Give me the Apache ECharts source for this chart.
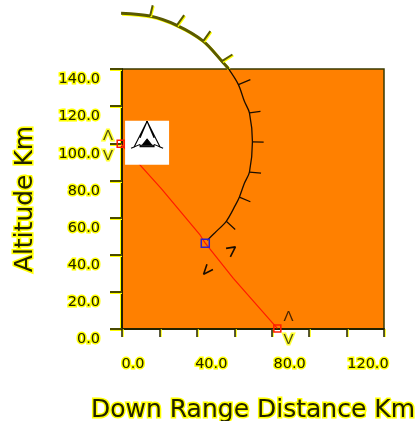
<!DOCTYPE html>
<html><head><meta charset="utf-8">
<style>html,body{margin:0;padding:0;background:#fff}#c{width:416px;height:421px}</style>
<script src="https://cdn.jsdelivr.net/npm/echarts@6/dist/echarts.min.js"></script>
</head><body><div id="c"></div>
<script>
const xTitle = 'Down Range Distance Km';
const yTitle = 'Altitude Km';
const xLabels = [0, 40, 80, 120];
const yLabels = [0, 20, 40, 60, 80, 100, 120, 140];
const arcOutside = [[-0.5,170],[15,168.5],[29.3,163.5],[43.4,155],[53.4,144.2],[56.8,140.3]];
const arcInside = [[56.8,140.3],[62.2,131.6],[65.4,122.6],[68.1,116.4],[69.7,100.8],[68.1,84.5],[65.4,78.5],[62.7,71],[60.6,66.7],[55.7,58],[49.8,52],[45.6,47.8]];
const barbsOutside = [[15,168.5],[16.4,174.3],null,[29.3,163.5],[33.2,169],null,[43.4,155],[47.2,160.4],null,[53.4,144.2],[59,147.8]];
const barbsInside = [[62.2,131.6],[68.6,134.3],null,[68.1,116.4],[74,117.2],null,[69.7,100.8],[75.7,100.6],null,[68.1,84.5],[74.3,83.9],null,[62.7,71],[68.6,68.5],null,[55.7,58],[60.5,53.6]];
const groundTrack = [[-0.7,99.7],[9.1,88.9],[21,75.6],[41.8,50.5],[44.5,46.2],[59.5,27.3],[83,0.3]];
const arrowA = [[55.6,43.4],[60.6,44.2],[57.9,38.8]];
const arrowB = [[45.4,34.9],[43.6,29.5],[48.6,32]];
const redMarks = [[-0.7,99.7],[83,0.3]];
const blueMark = [[44.5,46.2]];
const iconPoint = [[13.4,100.3]];
const haloGlyphs = [[-7.5,104,'Λ'],[-7.5,93,'V'],[89,-6,'V']];
const plainGlyphs = [[89,6.5,'Λ']];

const halo = {color:'#222200',textBorderColor:'#ffff00',textBorderWidth:3};
const chart = echarts.init(document.getElementById('c'));
function line(data,color,width,shadow,z,smooth){
  return {type:'line',data,symbol:'none',clip:false,z,connectNulls:false,animation:false,smooth:smooth||false,
    lineStyle:Object.assign({color,width},shadow?{shadowColor:'#ffff00',shadowBlur:0,shadowOffsetX:1,shadowOffsetY:1}:{})};
}
const iconPath='path://M50 2 L12 70 M50 2 L88 70 M50 2 L30 45 M50 2 L70 45 M38 62 L50 48 L62 62 Z M4 72 L30 62 M96 72 L70 62 M30 64 L70 64 L70 68 L30 68 Z';
chart.setOption({
  animation:false,
  grid:{left:122,right:32,top:69,bottom:92,outerBoundsMode:'none',show:true,backgroundColor:'#ff8000',borderColor:'#3a3a00',borderWidth:1.5},
  xAxis:[
    {type:'value',min:0,max:140,interval:20,position:'bottom',splitLine:{show:false},
     axisLine:{onZero:false,lineStyle:{color:'#222200',width:2}},
     axisTick:{length:8,lineStyle:{color:'#222200',width:1.5,shadowColor:'#ffff00',shadowOffsetX:1,shadowBlur:0}},
     axisLabel:{show:false},
     name:xTitle,nameLocation:'middle',nameGap:69,
     nameTextStyle:Object.assign({fontFamily:'DejaVu Sans',fontSize:25},halo)},
    {type:'value',min:-5.6,max:128.2,position:'bottom',splitLine:{show:false},
     axisLine:{show:false},axisTick:{show:false},
     axisLabel:Object.assign({customValues:xLabels,margin:28,fontFamily:'DejaVu Sans',fontSize:14.5,
       formatter:v=>v.toFixed(1)},halo)}
  ],
  yAxis:{type:'value',min:0,max:140,interval:20,splitLine:{show:false},
    axisLine:{onZero:false,lineStyle:{color:'#222200',width:2,shadowColor:'#ffff00',shadowOffsetX:-1,shadowBlur:0}},
    axisTick:{length:12,lineStyle:{color:'#4a4a00',width:2,shadowColor:'#ffff00',shadowOffsetY:1,shadowBlur:0}},
    axisLabel:Object.assign({customValues:yLabels,margin:22,verticalAlign:'top',padding:[3,0,0,0],fontFamily:'DejaVu Sans',fontSize:14.5,
      formatter:v=>v.toFixed(1)},halo),
    name:yTitle,nameLocation:'middle',nameGap:84,nameRotate:90,
    nameTextStyle:Object.assign({fontFamily:'DejaVu Sans',fontSize:25},halo)},
  series:[
    line(groundTrack,'#ff1a00',1.2,false,3),
    {type:'scatter',data:iconPoint,symbol:'rect',symbolSize:44,clip:false,z:4,itemStyle:{color:'#fff',opacity:1},silent:true},
    {type:'scatter',data:iconPoint,symbol:iconPath,symbolSize:[32,27],symbolOffset:[0,-8],clip:false,z:5,
      itemStyle:{color:'#000',borderColor:'#000',borderWidth:1,opacity:1},silent:true},
    line(arcOutside,'#5a5a00',3,true,6,0.3),
    line(barbsOutside,'#5a5a00',2,true,6),
    line(arcInside,'#1a0d00',1.3,false,6,0.3),
    line(barbsInside,'#1a0d00',1.2,false,6),
    line(arrowA,'#1a0d00',1.6,false,6),
    line(arrowB,'#1a0d00',1.6,false,6),
    {type:'scatter',data:redMarks,symbol:'rect',symbolSize:7,clip:false,z:7,
      itemStyle:{color:'rgba(0,0,0,0)',borderColor:'#ff1a00',borderWidth:1.5,opacity:1}},
    {type:'scatter',data:blueMark,symbol:'rect',symbolSize:8,clip:false,z:7,
      itemStyle:{color:'rgba(0,0,0,0)',borderColor:'#3020c8',borderWidth:1.5,opacity:1}},
    {type:'scatter',data:haloGlyphs,symbolSize:0,clip:false,z:7,
      label:Object.assign({show:true,position:'inside',fontFamily:'Liberation Sans',fontSize:15,formatter:p=>p.value[2]},halo)},
    {type:'scatter',data:plainGlyphs,symbolSize:0,clip:false,z:7,
      label:{show:true,position:'inside',color:'#1a0d00',fontFamily:'Liberation Sans',fontSize:15,formatter:p=>p.value[2]}}
  ]
});
</script></body></html>
